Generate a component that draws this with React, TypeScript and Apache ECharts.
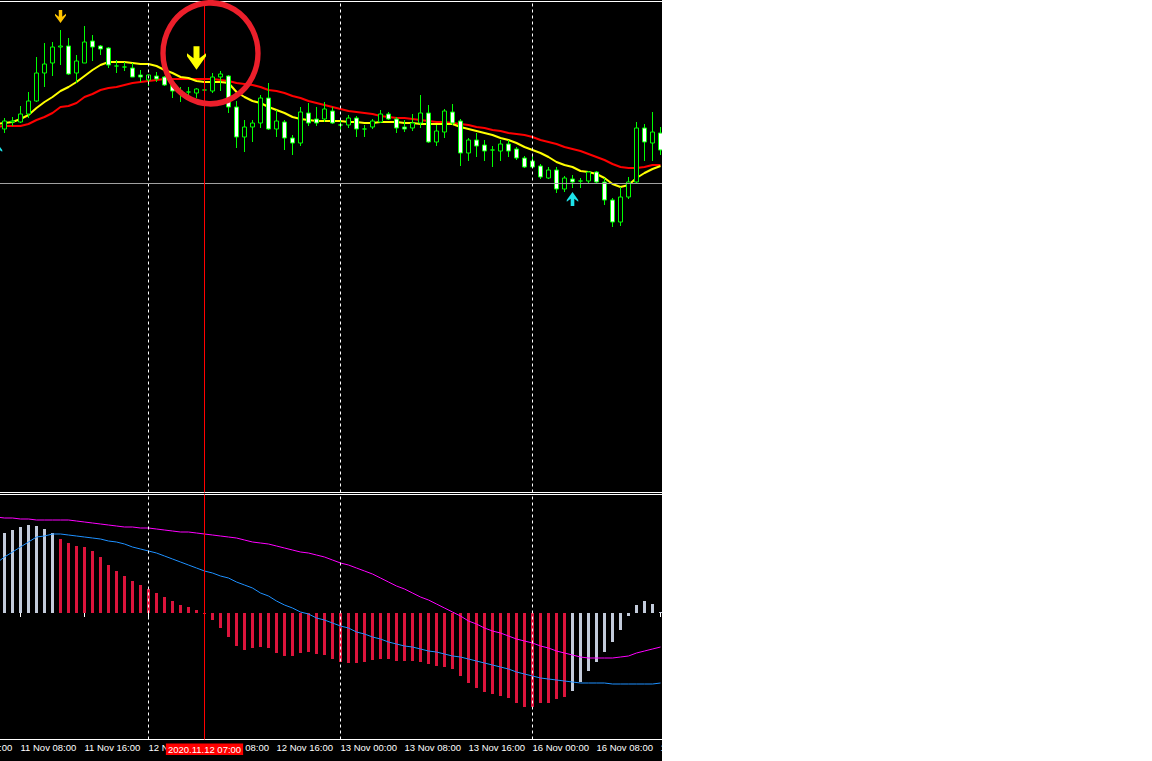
import React, { useEffect, useRef } from 'react';
import * as echarts from 'echarts';

// ---- time axis (hourly bars, weekend skipped) ----
const sessions: [string, number, number][] = [
  ['2020.11.11', 0, 23],
  ['2020.11.12', 0, 23],
  ['2020.11.13', 0, 23],
  ['2020.11.16', 0, 16],
];
const monthNames: Record<string, string> = { '11': 'Nov' };
const candleStart = '2020.11.11 06:00';
const lineStart = '2020.11.11 05:00';
const daySeparators = ['2020.11.12 00:00', '2020.11.13 00:00', '2020.11.16 00:00'];
const cursorTime = '2020.11.12 07:00';
const levelPrice = 1.3117;

// ---- price bars ----
const open = [
  1.3171, 1.3178, 1.3178, 1.3186, 1.3199, 1.3227, 1.3237, 1.3253, 1.3254, 1.3227,
  1.3237, 1.3259, 1.3254, 1.3252, 1.3234, 1.3233, 1.3232, 1.3225, 1.3220, 1.3224,
  1.3223, 1.3216, 1.3209, 1.3208, 1.3207, 1.3210, 1.3209, 1.3223, 1.3224, 1.3193,
  1.3163, 1.3173, 1.3177, 1.3202, 1.3171, 1.3178, 1.3162, 1.3157, 1.3187, 1.3181,
  1.3181, 1.3189, 1.3175, 1.3175, 1.3182, 1.3171, 1.3173, 1.3178, 1.3186, 1.3181,
  1.3173, 1.3172, 1.3177, 1.3187, 1.3158, 1.3168, 1.3188, 1.3179, 1.3147, 1.3160,
  1.3155, 1.3150, 1.3149, 1.3156, 1.3151, 1.3142, 1.3139, 1.3134, 1.3122, 1.3130,
  1.3111, 1.3121, 1.3119, 1.3119, 1.3128, 1.3118, 1.3100, 1.3078, 1.3103, 1.3118,
  1.3172, 1.3157, 1.3167,
];
const close = [
  1.3179, 1.3179, 1.3186, 1.3199, 1.3227, 1.3236, 1.3253, 1.3254, 1.3226, 1.3239,
  1.3258, 1.3253, 1.3251, 1.3235, 1.3234, 1.3233, 1.3223, 1.3223, 1.3225, 1.3221,
  1.3215, 1.3209, 1.3209, 1.3208, 1.3211, 1.3210, 1.3223, 1.3226, 1.3193, 1.3163,
  1.3173, 1.3177, 1.3202, 1.3171, 1.3179, 1.3162, 1.3157, 1.3188, 1.3177, 1.3177,
  1.3191, 1.3177, 1.3175, 1.3182, 1.3171, 1.3171, 1.3179, 1.3186, 1.3181, 1.3172,
  1.3171, 1.3177, 1.3187, 1.3158, 1.3169, 1.3189, 1.3177, 1.3147, 1.3160, 1.3154,
  1.3149, 1.3150, 1.3156, 1.3149, 1.3142, 1.3133, 1.3133, 1.3123, 1.3130, 1.3111,
  1.3122, 1.3118, 1.3119, 1.3128, 1.3118, 1.3100, 1.3078, 1.3103, 1.3118, 1.3172,
  1.3158, 1.3168, 1.3150,
];
const high = [
  1.3182, 1.3183, 1.3194, 1.3208, 1.3243, 1.3257, 1.3258, 1.3270, 1.3262, 1.3245,
  1.3274, 1.3265, 1.3255, 1.3253, 1.3240, 1.3238, 1.3237, 1.3230, 1.3226, 1.3228,
  1.3224, 1.3220, 1.3213, 1.3213, 1.3212, 1.3214, 1.3227, 1.3229, 1.3225, 1.3199,
  1.3180, 1.3180, 1.3205, 1.3217, 1.3190, 1.3180, 1.3165, 1.3193, 1.3197, 1.3193,
  1.3198, 1.3193, 1.3180, 1.3185, 1.3184, 1.3175, 1.3181, 1.3190, 1.3188, 1.3183,
  1.3180, 1.3186, 1.3205, 1.3195, 1.3175, 1.3191, 1.3196, 1.3181, 1.3162, 1.3167,
  1.3160, 1.3154, 1.3160, 1.3160, 1.3153, 1.3144, 1.3145, 1.3136, 1.3133, 1.3133,
  1.3124, 1.3125, 1.3122, 1.3129, 1.3129, 1.3122, 1.3102, 1.3113, 1.3123, 1.3178,
  1.3176, 1.3188, 1.3173,
];
const low = [
  1.3167, 1.3174, 1.3177, 1.3182, 1.3198, 1.3213, 1.3224, 1.3235, 1.3225, 1.3217,
  1.3237, 1.3239, 1.3245, 1.3232, 1.3227, 1.3229, 1.3223, 1.3218, 1.3214, 1.3218,
  1.3214, 1.3202, 1.3198, 1.3203, 1.3202, 1.3206, 1.3207, 1.3209, 1.3187, 1.3152,
  1.3148, 1.3158, 1.3172, 1.3170, 1.3163, 1.3150, 1.3145, 1.3154, 1.3174, 1.3174,
  1.3178, 1.3176, 1.3168, 1.3172, 1.3163, 1.3163, 1.3171, 1.3177, 1.3180, 1.3167,
  1.3168, 1.3169, 1.3172, 1.3157, 1.3154, 1.3162, 1.3175, 1.3134, 1.3139, 1.3143,
  1.3139, 1.3133, 1.3139, 1.3143, 1.3140, 1.3132, 1.3133, 1.3121, 1.3121, 1.3107,
  1.3108, 1.3112, 1.3112, 1.3116, 1.3116, 1.3095, 1.3073, 1.3074, 1.3101, 1.3117,
  1.3139, 1.3139, 1.3145,
];

// ---- moving averages (start one bar earlier) ----
const maFast = [
  1.3176,
  1.3177, 1.3178, 1.3181, 1.3185, 1.3192, 1.3198, 1.3203, 1.3209, 1.3213, 1.3218,
  1.3224, 1.3230, 1.3235, 1.3238, 1.3238, 1.3238, 1.3237, 1.3236, 1.3236, 1.3234,
  1.3230, 1.3227, 1.3223, 1.3222, 1.3219, 1.3218, 1.3218, 1.3218, 1.3217, 1.3208,
  1.3203, 1.3199, 1.3197, 1.3193, 1.3190, 1.3187, 1.3183, 1.3181, 1.3180, 1.3179,
  1.3179, 1.3179, 1.3179, 1.3178, 1.3178, 1.3177, 1.3177, 1.3178, 1.3178, 1.3178,
  1.3177, 1.3177, 1.3176, 1.3176, 1.3176, 1.3176, 1.3176, 1.3173, 1.3171, 1.3169,
  1.3167, 1.3165, 1.3162, 1.3160, 1.3157, 1.3153, 1.3150, 1.3147, 1.3143, 1.3138,
  1.3135, 1.3133, 1.3129, 1.3128, 1.3126, 1.3122, 1.3116, 1.3113, 1.3115, 1.3122,
  1.3127, 1.3131, 1.3134,
];
const maSlow = [
  1.3173,
  1.3174, 1.3174, 1.3174, 1.3176, 1.3180, 1.3183, 1.3187, 1.3193, 1.3194, 1.3197,
  1.3203, 1.3206, 1.3210, 1.3212, 1.3213, 1.3215, 1.3217, 1.3218, 1.3219, 1.3220,
  1.3221, 1.3221, 1.3221, 1.3221, 1.3221, 1.3221, 1.3221, 1.3220, 1.3219, 1.3217,
  1.3216, 1.3215, 1.3213, 1.3210, 1.3209, 1.3207, 1.3204, 1.3202, 1.3199, 1.3197,
  1.3195, 1.3193, 1.3191, 1.3189, 1.3188, 1.3187, 1.3186, 1.3184, 1.3183, 1.3182,
  1.3182, 1.3181, 1.3180, 1.3179, 1.3178, 1.3178, 1.3177, 1.3176, 1.3175, 1.3173,
  1.3172, 1.3170, 1.3169, 1.3167, 1.3166, 1.3165, 1.3163, 1.3160, 1.3158, 1.3156,
  1.3153, 1.3151, 1.3149, 1.3146, 1.3143, 1.3140, 1.3136, 1.3133, 1.3132, 1.3132,
  1.3133, 1.3135, 1.3135,
];

// ---- MACD pane ----
const macdHist = [
  8.0, 8.3, 8.6, 8.8, 8.7, 8.4, 8.0, 7.4, 7.0, 6.7,
  6.6, 6.2, 5.6, 4.8, 4.2, 3.7, 3.2, 2.8, 2.4, 2.0,
  1.6, 1.2, 0.8, 0.6, 0.3, -0.1, -0.7, -1.5, -2.4, -3.3,
  -3.7, -3.5, -3.4, -3.5, -4.0, -4.3, -4.3, -4.0, -3.9, -4.1,
  -4.2, -4.6, -4.9, -5.0, -5.0, -4.9, -4.7, -4.6, -4.6, -4.8,
  -4.8, -4.8, -4.9, -5.1, -5.3, -5.4, -5.6, -6.3, -7.0, -7.5,
  -7.9, -8.1, -8.3, -8.5, -9.0, -9.4, -9.4, -9.0, -9.0, -8.6,
  -8.4, -7.8, -6.9, -5.8, -4.9, -3.9, -2.9, -1.7, -0.3, 0.8,
  1.2, 0.9, 0.1,
];
// histogram state runs: [bar count, state]
const histRuns: [number, 'up' | 'down'][] = [[7, 'up'], [64, 'down'], [12, 'up']];
const macdLine = [
  5.0,
  5.6, 6.1, 6.6, 7.1, 7.6, 7.7, 7.9, 7.9, 7.8, 7.7,
  7.6, 7.5, 7.4, 7.2, 7.1, 6.9, 6.6, 6.4, 6.2, 6.0,
  5.7, 5.4, 5.1, 4.8, 4.5, 4.2, 4.0, 3.7, 3.5, 3.1,
  2.8, 2.5, 2.0, 1.7, 1.2, 0.8, 0.5, 0.1, -0.1, -0.5,
  -0.7, -1.0, -1.3, -1.5, -1.9, -2.1, -2.4, -2.6, -2.9, -3.1,
  -3.3, -3.4, -3.6, -3.8, -3.9, -4.1, -4.3, -4.4, -4.6, -4.8,
  -5.0, -5.2, -5.4, -5.6, -5.9, -6.1, -6.3, -6.5, -6.6, -6.7,
  -6.8, -6.9, -7.0, -7.0, -7.0, -7.0, -7.1, -7.1, -7.1, -7.1,
  -7.1, -7.1, -7.0,
];
const signalLine = [
  9.6,
  9.5, 9.5, 9.4, 9.4, 9.3, 9.3, 9.3, 9.3, 9.3, 9.2,
  9.1, 9.0, 8.9, 8.8, 8.7, 8.6, 8.6, 8.5, 8.5, 8.4,
  8.3, 8.2, 8.1, 8.1, 8.0, 7.9, 7.8, 7.7, 7.6, 7.5,
  7.3, 7.1, 7.0, 6.9, 6.7, 6.5, 6.3, 6.1, 6.0, 5.8,
  5.6, 5.3, 5.0, 4.8, 4.5, 4.2, 3.9, 3.5, 3.1, 2.7,
  2.4, 2.0, 1.6, 1.3, 0.9, 0.5, 0.1, -0.3, -0.8, -1.1,
  -1.5, -1.8, -2.0, -2.3, -2.6, -2.8, -3.0, -3.3, -3.5, -3.8,
  -4.0, -4.2, -4.4, -4.5, -4.5, -4.5, -4.5, -4.4, -4.3, -4.0,
  -3.8, -3.6, -3.4,
];

// ---- annotations ----
const sellSignals: [string, number][] = [['2020.11.11 13:00', 1.32835]];
const entrySignals: [string, number][] = [['2020.11.12 06:00', 1.3242]];
const buySignals: [string, number][] = [['2020.11.11 05:00', 1.3151], ['2020.11.16 05:00', 1.3101]];
const highlights: [string, number][] = [['2020.11.12 07:00', 1.32467]];

// ---- derived ----
const categories: string[] = [];
sessions.forEach(([d, from, to]) => {
  for (let h = from; h <= to; h++) categories.push(`${d} ${String(h).padStart(2, '0')}:00`);
});
const padTo = (start: string, arr: any[], filler: any) => {
  const k = categories.indexOf(start);
  return [...Array(k).fill(filler), ...arr];
};
const candleData = padTo(
  candleStart,
  open.map((o, i) => [o, close[i], low[i], high[i]]),
  ['-', '-', '-', '-']
);
const histStates: string[] = [];
histRuns.forEach(([n, s]) => { for (let i = 0; i < n; i++) histStates.push(s); });
const histData = padTo(candleStart, macdHist, '-');
const histStateFull = padTo(candleStart, histStates, 'up');

const hourOf = (v: string) => parseInt(v.slice(11, 13), 10);
const fmtTime = (v: string) => `${v.slice(8, 10)} ${monthNames[v.slice(5, 7)]} ${v.slice(11)}`;
const isMajor = (_i: number, v: string) => hourOf(v) % 8 === 0;

const FONT = 'Liberation Sans';
const DOWN_ARROW = 'path://M7,0L13,0L13,12L19.5,7L19.5,10L10,23.5L0.5,10L0.5,7L7,12Z';

const sepLines = daySeparators.map((t) => ({
  xAxis: t,
  lineStyle: { color: '#ffffff', type: [3, 3], width: 1 },
  label: { show: false },
}));

const gridBase = {
  left: -47.5, width: 712, show: true, borderColor: '#ffffff', borderWidth: 1,
  backgroundColor: 'transparent', containLabel: false, outerBoundsMode: 'none',
};

const option: any = {
  animation: false,
  backgroundColor: '#000000',
  grid: [
    { ...gridBase, top: 1.5, height: 491 },
    { ...gridBase, top: 494.5, height: 245 },
  ],
  xAxis: [
    { type: 'category', gridIndex: 0, data: categories, boundaryGap: true, show: false },
    {
      type: 'category', gridIndex: 1, data: categories, boundaryGap: true,
      axisLine: { show: false },
      axisTick: { show: true, alignWithLabel: true, interval: isMajor, length: 4, lineStyle: { color: '#ffffff', width: 1 } },
      axisLabel: {
        interval: isMajor, formatter: (v: string) => fmtTime(v), color: '#ffffff',
        fontFamily: FONT, fontSize: 9.5, align: 'left', margin: 3, hideOverlap: false,
      },
      splitLine: { show: false },
    },
  ],
  yAxis: [
    { type: 'value', gridIndex: 0, min: 1.28075, max: 1.32985, show: false },
    { type: 'value', gridIndex: 1, min: -12.65, max: 11.85, show: false },
  ],
  series: [
    {
      name: 'MA slow', type: 'line', xAxisIndex: 0, yAxisIndex: 0, z: 2,
      data: padTo(lineStart, maSlow, '-'), symbol: 'none',
      lineStyle: { color: '#ff0000', width: 2 },
      markLine: {
        silent: true, symbol: ['none', 'none'], animation: false, precision: 5,
        data: [
          ...sepLines,
          { yAxis: levelPrice, lineStyle: { color: '#a0a0a0', type: 'solid', width: 1 }, label: { show: false } },
          { xAxis: cursorTime, lineStyle: { color: '#ff0000', type: 'solid', width: 1 }, label: { show: false } },
        ],
      },
    },
    {
      name: 'MA fast', type: 'line', xAxisIndex: 0, yAxisIndex: 0, z: 2,
      data: padTo(lineStart, maFast, '-'), symbol: 'none',
      lineStyle: { color: '#ffff00', width: 2 },
    },
    {
      name: 'Price', type: 'candlestick', xAxisIndex: 0, yAxisIndex: 0, z: 3,
      data: candleData, barWidth: 4,
      itemStyle: {
        color: '#000000', color0: '#ffffff',
        borderColor: '#00ff00', borderColor0: '#00ff00', borderColorDoji: '#00ff00', borderWidth: 1,
      },
    },
    {
      name: 'Sell signal', type: 'scatter', xAxisIndex: 0, yAxisIndex: 0, z: 5,
      data: sellSignals, symbol: DOWN_ARROW, symbolSize: [11, 13],
      itemStyle: { color: '#ffc400', opacity: 1 },
    },
    {
      name: 'Entry', type: 'scatter', xAxisIndex: 0, yAxisIndex: 0, z: 5,
      data: entrySignals, symbol: DOWN_ARROW, symbolSize: [19, 23.5],
      itemStyle: { color: '#ffff00', opacity: 1 },
    },
    {
      name: 'Buy signal', type: 'scatter', xAxisIndex: 0, yAxisIndex: 0, z: 5,
      data: buySignals, symbol: DOWN_ARROW, symbolRotate: 180, symbolSize: [11.5, 14],
      itemStyle: { color: '#1ee3ea', opacity: 1 },
    },
    {
      name: 'Highlight', type: 'scatter', xAxisIndex: 0, yAxisIndex: 0, z: 6,
      data: highlights, symbol: 'circle', symbolSize: [95, 101], symbolOffset: [6, 0],
      itemStyle: { color: 'rgba(0,0,0,0)', borderColor: '#ec1f2b', borderWidth: 5.5, opacity: 1 },
    },
    {
      name: 'MACD histogram', type: 'bar', xAxisIndex: 1, yAxisIndex: 1, z: 2,
      data: histData, barWidth: 3,
      itemStyle: {
        color: (p: any) => (histStateFull[p.dataIndex] === 'up' ? '#c3cbdb' : '#dc143c'),
      },
      markLine: {
        silent: true, symbol: ['none', 'none'], animation: false,
        data: [
          ...sepLines,
          {
            xAxis: cursorTime,
            lineStyle: { color: '#ff0000', type: 'solid', width: 1 },
            label: {
              show: true, position: 'start', distance: 4, formatter: () => cursorTime,
              color: '#ffffff', backgroundColor: '#ff0000', padding: [1, 2, 1, 2],
              fontFamily: FONT, fontSize: 9.5, lineHeight: 9.5,
            },
          },
        ],
      },
    },
    {
      name: 'Signal', type: 'line', xAxisIndex: 1, yAxisIndex: 1, z: 3,
      data: padTo(lineStart, signalLine, '-'), symbol: 'none',
      lineStyle: { color: '#ff00ff', width: 1 },
    },
    {
      name: 'MACD', type: 'line', xAxisIndex: 1, yAxisIndex: 1, z: 3,
      data: padTo(lineStart, macdLine, '-'), symbol: 'none',
      lineStyle: { color: '#1e90ff', width: 1 },
    },
  ],
};

export default function App() {
  const ref = useRef<HTMLDivElement>(null);
  useEffect(() => {
    if (!ref.current) return;
    const chart = echarts.init(ref.current, null, { renderer: 'svg' });
    chart.setOption(option);
    return () => chart.dispose();
  }, []);
  return (
    <div style={{ position: 'fixed', left: 0, top: 0, width: 1152, height: 761, background: '#ffffff', overflow: 'hidden' }}>
      <div ref={ref} style={{ width: 662, height: 761, background: '#000000' }} />
    </div>
  );
}
